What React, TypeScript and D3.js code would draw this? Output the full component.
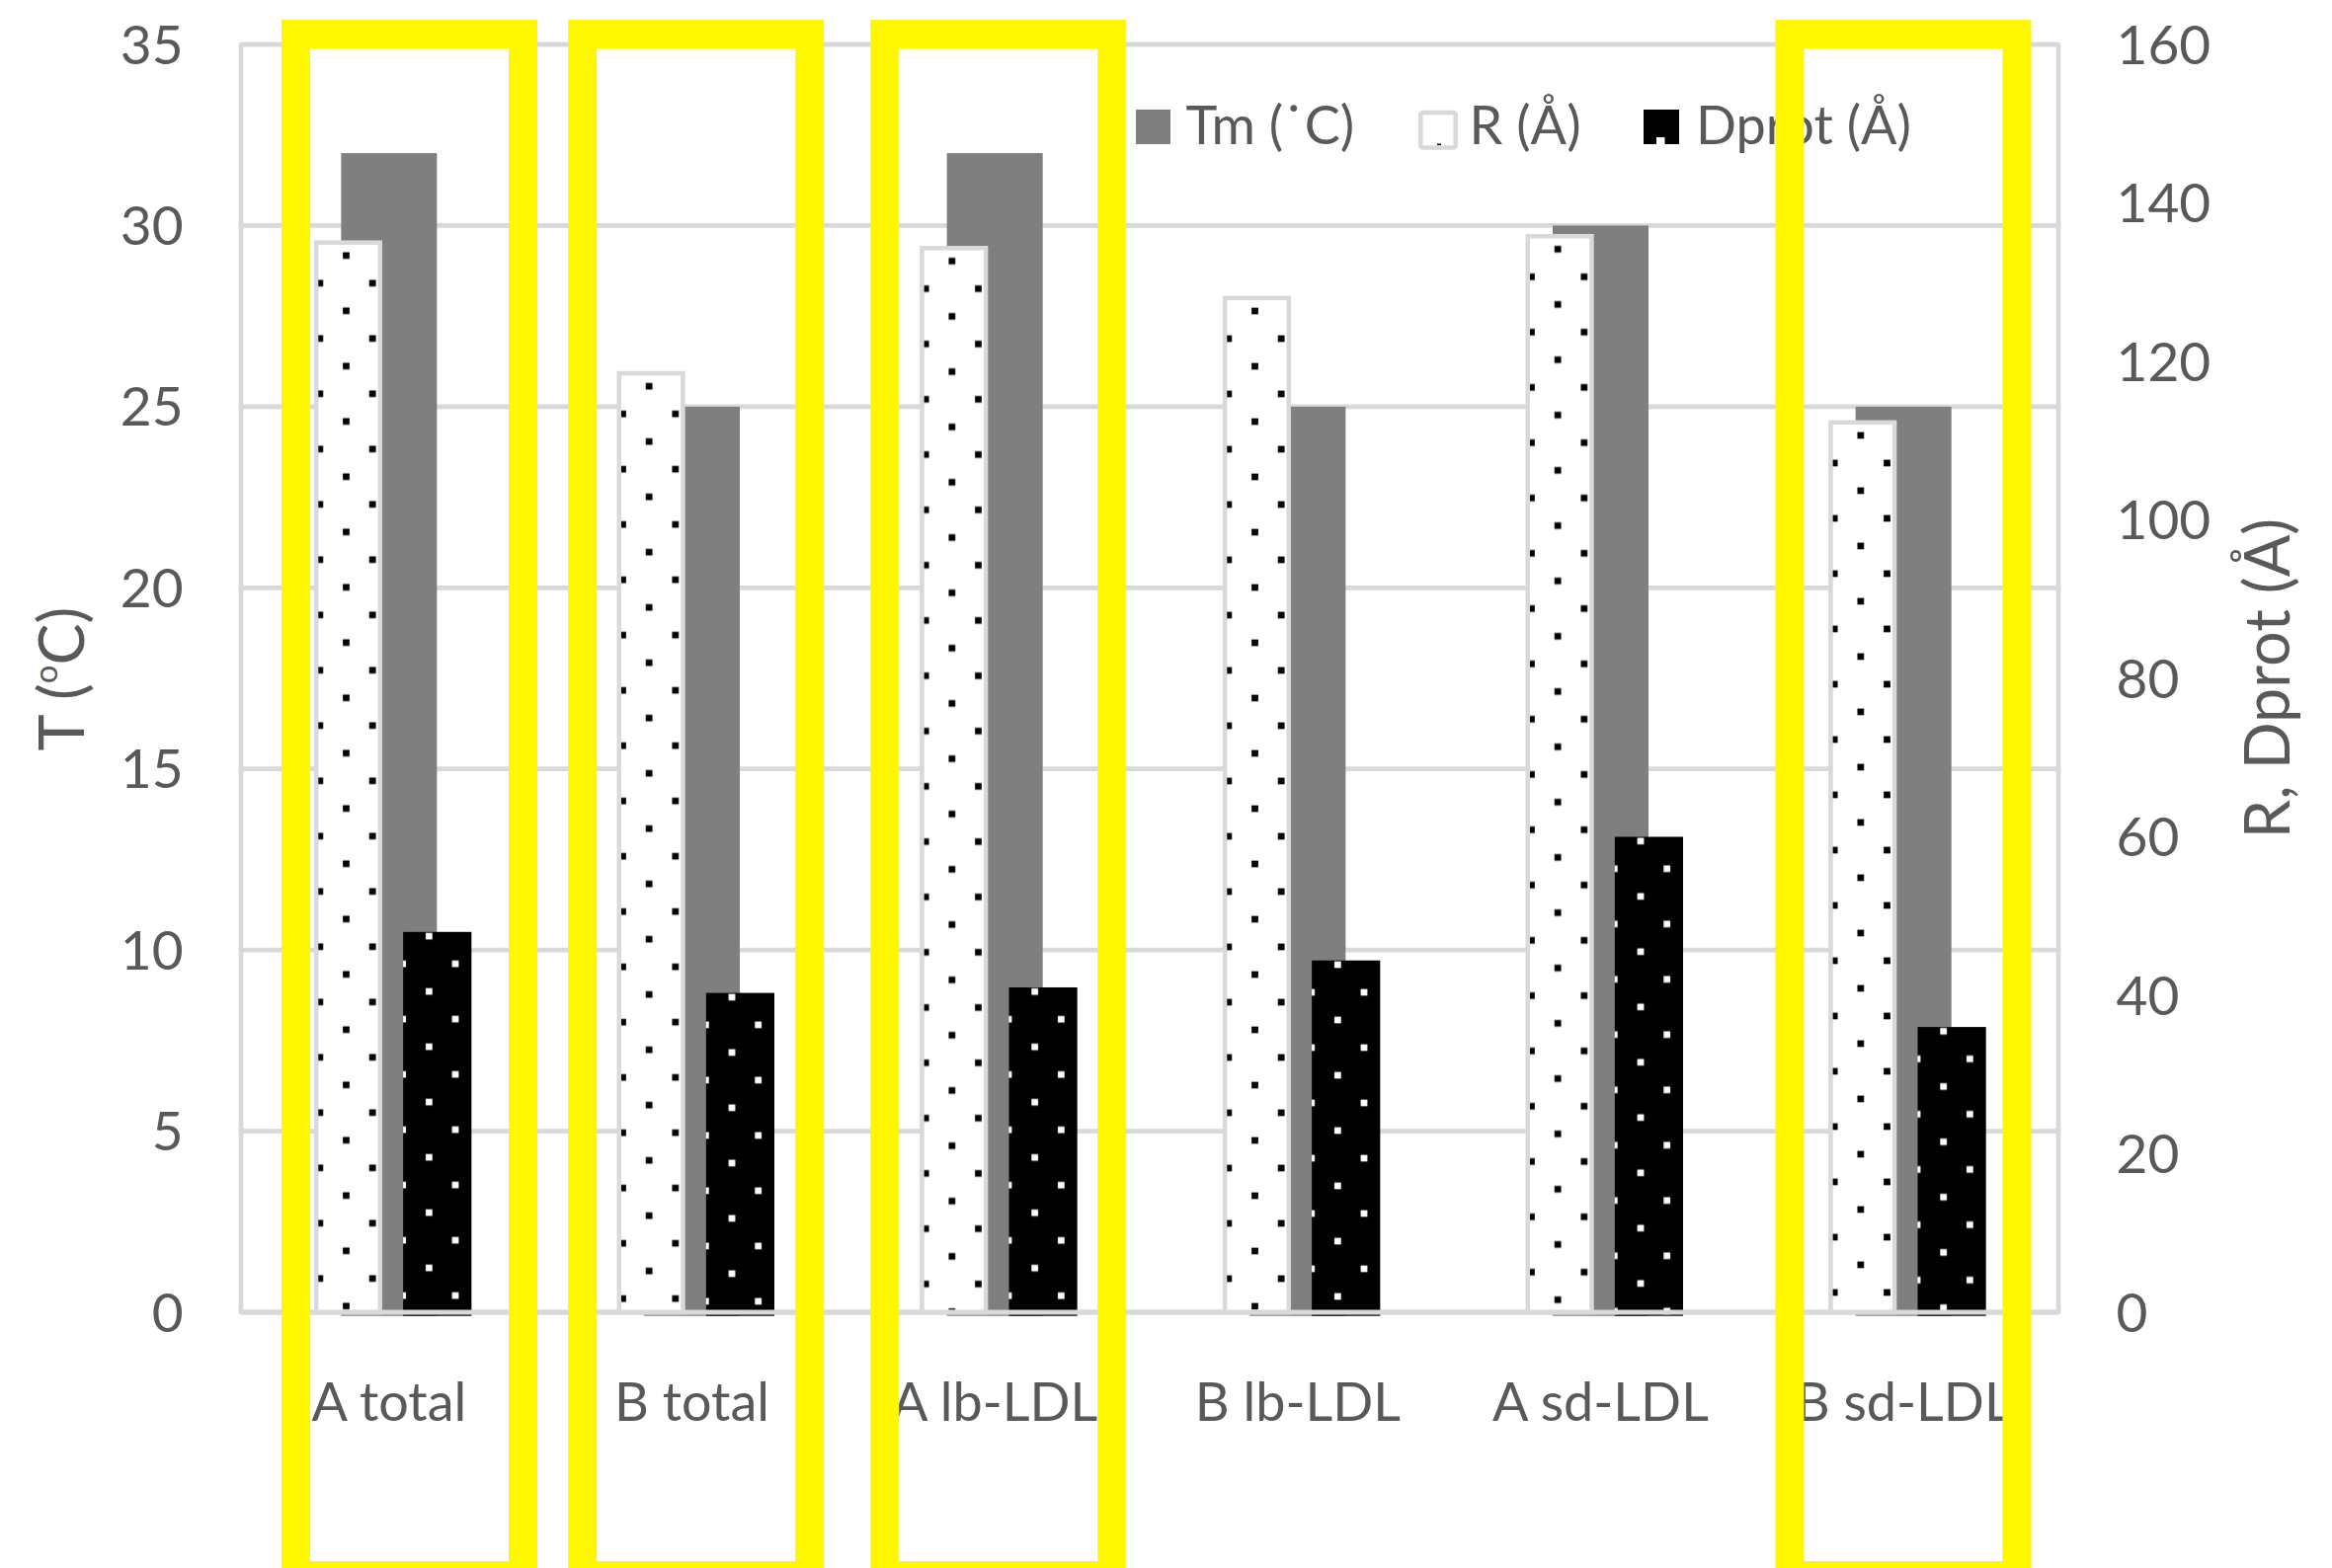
import React from 'react';
import * as d3 from 'd3';

// Chart data
const categories = ['A total', 'B total', 'A lb-LDL', 'B lb-LDL', 'A sd-LDL', 'B sd-LDL'];
const tmValues = [32, 25, 32, 25, 30, 25]; // Tm (°C), left axis
const rValues = [135, 118.5, 134.3, 128, 135.8, 112.3]; // R (Å), right axis
const dprotValues = [48, 40.3, 41, 44.4, 60, 36]; // Dprot (Å), right axis
const leftTicks = [0, 5, 10, 15, 20, 25, 30, 35];
const rightTicks = [0, 20, 40, 60, 80, 100, 120, 140, 160];
const secondarySeries = ['R', 'Dprot'];
const legendLabels = ['Tm (˙C)', 'R (Å)', 'Dprot (Å)'];
const highlighted = ['A total', 'B total', 'A lb-LDL', 'B sd-LDL'];

// Layout
const W = 2361;
const H = 1588;
const PLOT = { left: 244, right: 2084, top: 45, bottom: 1329 };
const BAND_RANGE: [number, number] = [240.5, 2080.5];
const HIGHLIGHT_NUDGE = [20.7, 4.2, 3.6, -0.2];
const HIGHLIGHT_W = 259;
const HIGHLIGHT_STROKE = 29;
const LEGEND_X = [1150, 1436, 1664];

// Styles
const TEXT = '#595959';
const GRID = '#d9d9d9';
const TM_FILL = '#7f7f7f';
const YELLOW = '#fff700';
const FONT = 'Lato, "Liberation Sans", Arial, sans-serif';
const TILE_W = 53.33;
const TILE_H = 56;
const DOT = 6.7;
const R_STROKE = 4.5;

function DotTile({ id, x, y, bg, dot }: { id: string; x: number; y: number; bg: string; dot: string }) {
  return (
    <pattern id={id} patternUnits="userSpaceOnUse" x={x} y={y} width={TILE_W} height={TILE_H}>
      <rect width={TILE_W} height={TILE_H} fill={bg} />
      <rect x={TILE_W / 4 - DOT / 2} y={TILE_H / 4 - DOT / 2} width={DOT} height={DOT} fill={dot} />
      <rect x={(3 * TILE_W) / 4 - DOT / 2} y={(3 * TILE_H) / 4 - DOT / 2} width={DOT} height={DOT} fill={dot} />
    </pattern>
  );
}

export default function App() {
  const x = d3.scaleBand<string>().domain(categories).range(BAND_RANGE);
  const bw = x.bandwidth();
  const cx = (c: string) => (x(c) ?? 0) + bw / 2;
  const yL = d3.scaleLinear().domain([0, 35]).range([PLOT.bottom, PLOT.top]);
  const yR = d3.scaleLinear().domain([0, 160]).range([PLOT.bottom, PLOT.top]);
  const tmW = bw * 0.3163;
  const sub = d3
    .scaleBand<string>()
    .domain(secondarySeries)
    .range([-bw * 0.2478, bw * 0.2723])
    .paddingInner(0.234);
  const sw = sub.bandwidth();
  const y0 = yL(0);

  const rBars = categories.map((c, i) => {
    const left = cx(c) + (sub('R') ?? 0);
    const top = yR(rValues[i]);
    return { c, i, left, top };
  });
  const dBars = categories.map((c, i) => {
    const left = cx(c) + (sub('Dprot') ?? 0);
    const top = yR(dprotValues[i]);
    return { c, i, left, top };
  });

  const textBase = { fill: TEXT, fontFamily: FONT };

  return (
    <svg
      width={W}
      height={H}
      viewBox={`0 0 ${W} ${H}`}
      style={{ position: 'absolute', left: 0, top: 0, display: 'block', background: '#fff' }}
    >
      <defs>
        {rBars.map((b) => (
          <DotTile
            key={`rp${b.i}`}
            id={`rdots-${b.i}`}
            x={b.left - 7.33 - TILE_W / 4 + 13.33}
            y={b.top - R_STROKE / 2 - 26.6 - TILE_H / 4 + 14}
            bg="#ffffff"
            dot="#000000"
          />
        ))}
        {dBars.map((b) => (
          <DotTile
            key={`dp${b.i}`}
            id={`ddots-${b.i}`}
            x={b.left - 13.8 - TILE_W / 4 + 13.33}
            y={b.top + 18.3 - TILE_H / 4 + 14}
            bg="#000000"
            dot="#ffffff"
          />
        ))}
      </defs>
      <rect width={W} height={H} fill="#fff" />

      {/* gridlines */}
      {leftTicks.map((t) => (
        <line key={`g${t}`} x1={PLOT.left} x2={PLOT.right} y1={yL(t)} y2={yL(t)} stroke={GRID} strokeWidth={4.7} />
      ))}
      <rect
        x={PLOT.left}
        y={PLOT.top}
        width={PLOT.right - PLOT.left}
        height={PLOT.bottom - PLOT.top}
        fill="none"
        stroke={GRID}
        strokeWidth={4.7}
        strokeLinejoin="round"
      />

      {/* Tm bars (primary axis) */}
      {categories.map((c, i) => (
        <rect
          key={`tm${i}`}
          x={cx(c) - tmW / 2}
          y={yL(tmValues[i])}
          width={tmW}
          height={y0 + 3.7 - yL(tmValues[i])}
          fill={TM_FILL}
        />
      ))}

      {/* R bars (secondary axis) */}
      {rBars.map((b) => (
        <rect
          key={`r${b.i}`}
          x={b.left + R_STROKE / 2}
          y={b.top}
          width={sw - R_STROKE}
          height={y0 - b.top}
          fill={`url(#rdots-${b.i})`}
          stroke={GRID}
          strokeWidth={R_STROKE}
        />
      ))}

      {/* Dprot bars (secondary axis) */}
      {dBars.map((b) => (
        <rect
          key={`d${b.i}`}
          x={b.left}
          y={b.top}
          width={sw}
          height={y0 + 3.7 - b.top}
          fill={`url(#ddots-${b.i})`}
        />
      ))}

      {/* category axis line */}
      <line x1={PLOT.left} x2={PLOT.right} y1={y0} y2={y0} stroke={GRID} strokeWidth={5} />

      {/* left ticks */}
      {leftTicks.map((t) => (
        <text key={`lt${t}`} x={185.6} y={yL(t) + 19.5} textAnchor="end" fontSize={55} {...textBase}>
          {t}
        </text>
      ))}
      {/* right ticks */}
      {rightTicks.map((t) => (
        <text key={`rt${t}`} x={2142.5} y={yR(t) + 19.5} textAnchor="start" fontSize={55} {...textBase}>
          {t}
        </text>
      ))}

      {/* category labels */}
      {categories.map((c) => (
        <text key={`cl${c}`} x={cx(c)} y={1439} textAnchor="middle" fontSize={54} {...textBase}>
          {c}
        </text>
      ))}

      {/* axis titles */}
      <text transform="translate(85,687.5) rotate(-90)" textAnchor="middle" fontSize={63} {...textBase}>
        T (
        <tspan fontSize={33} dy={-27}>
          o
        </tspan>
        <tspan dy={27}>C)</tspan>
      </text>
      <text transform="translate(2318,687) rotate(-90)" textAnchor="middle" fontSize={63} {...textBase}>
        R, Dprot (Å)
      </text>

      {/* legend */}
      <g>
        <rect x={LEGEND_X[0]} y={111} width={35} height={35} fill={TM_FILL} />
        <text x={LEGEND_X[0] + 50.5} y={146} fontSize={54} {...textBase}>
          {legendLabels[0]}
        </text>

        <rect
          x={LEGEND_X[1] + R_STROKE / 2}
          y={111.7 + R_STROKE / 2}
          width={40 - R_STROKE}
          height={40 - R_STROKE}
          fill="#fff"
          stroke={GRID}
          strokeWidth={R_STROKE}
          rx={2}
        />
        <rect x={LEGEND_X[1] + 19} y={145.5} width={4} height={1.5} fill="#000" />
        <text x={LEGEND_X[1] + 51.5} y={146} fontSize={54} {...textBase}>
          {legendLabels[1]}
        </text>

        <rect x={LEGEND_X[2]} y={111} width={36} height={35} fill="#000" />
        <rect x={LEGEND_X[2] + 13} y={139} width={8.5} height={7} fill="#fff" />
        <text x={LEGEND_X[2] + 53} y={146} fontSize={54} {...textBase}>
          {legendLabels[2]}
        </text>
      </g>

      {/* highlight frames */}
      {highlighted.map((c, k) => {
        const center = cx(c) + HIGHLIGHT_NUDGE[k];
        const outerLeft = center - HIGHLIGHT_W / 2;
        return (
          <rect
            key={`hl${c}`}
            x={outerLeft + HIGHLIGHT_STROKE / 2}
            y={20 + HIGHLIGHT_STROKE / 2}
            width={HIGHLIGHT_W - HIGHLIGHT_STROKE}
            height={1595.5 - (20 + HIGHLIGHT_STROKE / 2)}
            fill="none"
            stroke={YELLOW}
            strokeWidth={HIGHLIGHT_STROKE}
          />
        );
      })}
    </svg>
  );
}
